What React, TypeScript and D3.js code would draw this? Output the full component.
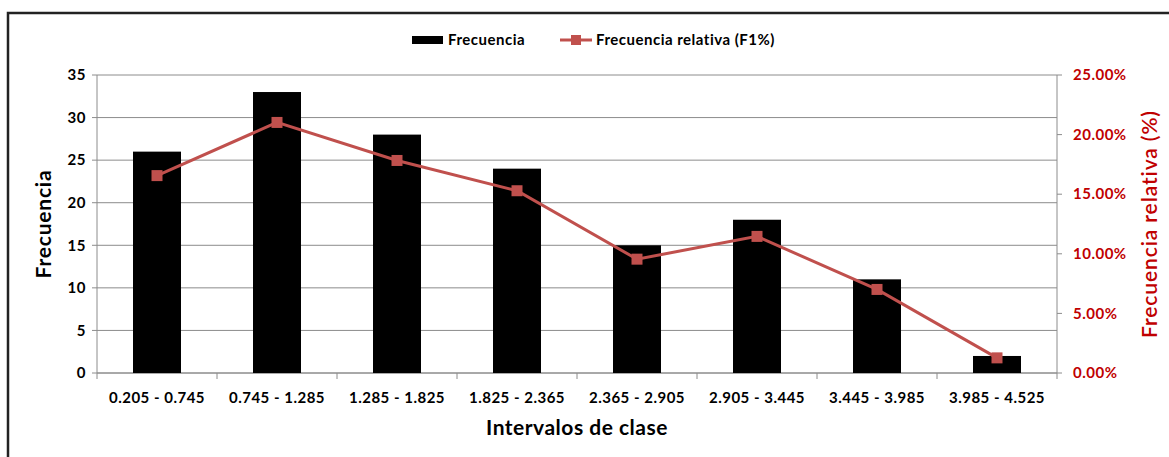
import React from 'react';
import * as d3 from 'd3';

const categories = [
  '0.205 - 0.745', '0.745 - 1.285', '1.285 - 1.825', '1.825 - 2.365',
  '2.365 - 2.905', '2.905 - 3.445', '3.445 - 3.985', '3.985 - 4.525',
];
const frecuencia = [26, 33, 28, 24, 15, 18, 11, 2];
const relativa = [0.1656, 0.2102, 0.1783, 0.1529, 0.0955, 0.1146, 0.0701, 0.0127];
const leftTicks = [0, 5, 10, 15, 20, 25, 30, 35];
const rightTicks = [0, 0.05, 0.1, 0.15, 0.2, 0.25];

const W = 1169;
const H = 457;
const FONT = 'Lato, sans-serif';
const RED = '#c0504d';
const LABEL_RED = '#c00000';
const GRID = '#8c8c8c';

export default function App() {
  const left = 97, right = 1057, top = 75, bottom = 373;

  const x = d3.scaleBand<string>().domain(categories).range([left, right]).paddingInner(0.6).paddingOuter(0.3);
  const y = d3.scaleLinear().domain([0, 35]).range([bottom, top]);
  const y2 = d3.scaleLinear().domain([0, 0.25]).range([bottom, top]);
  const boundaries = d3.range(categories.length + 1).map(i => left + i * ((right - left) / categories.length));
  const cx = (c: string) => (x(c) ?? 0) + x.bandwidth() / 2;

  const line = d3.line<number>()
    .x((_, i) => cx(categories[i]))
    .y(d => y2(d));

  const fmtPct = (v: number) => (v * 100).toFixed(2) + '%';

  return (
    <svg width={W} height={H} style={{ position: 'absolute', left: 0, top: 0, background: '#fff' }}
      fontFamily={FONT}>
      {/* outer frame */}
      <rect x={8} y={13} width={1300} height={600} fill="none" stroke="#222" strokeWidth={2.5} />

      {/* gridlines */}
      {leftTicks.map(t => (
        <line key={'g' + t} x1={left} x2={right} y1={y(t)} y2={y(t)} stroke={GRID} strokeWidth={1} />
      ))}

      {/* left axis */}
      <line x1={left} x2={left} y1={top} y2={bottom} stroke={GRID} />
      {leftTicks.map(t => (
        <g key={'l' + t}>
          <line x1={left - 5} x2={left} y1={y(t)} y2={y(t)} stroke={GRID} />
          <text x={left - 11} y={y(t)} dy="0.35em" textAnchor="end" fontSize={15} letterSpacing={0.5} fontWeight="bold" fill="#000">{t}</text>
        </g>
      ))}

      {/* right axis */}
      <line x1={right} x2={right} y1={top} y2={bottom} stroke={GRID} />
      {rightTicks.map(t => (
        <g key={'r' + t}>
          <line x1={right} x2={right + 5} y1={y2(t)} y2={y2(t)} stroke={GRID} />
          <text x={right + 16} y={y2(t)} dy="0.35em" textAnchor="start" fontSize={15} letterSpacing={0.5} fontWeight="bold" fill={LABEL_RED}>{fmtPct(t)}</text>
        </g>
      ))}

      {/* x axis */}
      <line x1={left} x2={right} y1={bottom} y2={bottom} stroke={GRID} />
      {boundaries.map((b, i) => (
        <line key={'xt' + i} x1={b} x2={b} y1={bottom} y2={bottom + 6} stroke={GRID} />
      ))}
      {categories.map(c => (
        <text key={'xl' + c} x={cx(c)} y={398} dy="0.35em" textAnchor="middle" fontSize={15} letterSpacing={0.5} fontWeight="bold" fill="#000">{c}</text>
      ))}

      {/* bars */}
      {frecuencia.map((v, i) => (
        <rect key={'b' + i} x={x(categories[i])} y={y(v)} width={x.bandwidth()} height={bottom - y(v)} fill="#000" />
      ))}

      {/* relative line */}
      <path d={line(relativa) ?? ''} fill="none" stroke={RED} strokeWidth={3} />
      {relativa.map((v, i) => (
        <rect key={'m' + i} x={cx(categories[i]) - 5.5} y={y2(v) - 5.5} width={11} height={11} fill={RED} />
      ))}

      {/* axis titles */}
      <text transform={`translate(44,224) rotate(-90)`} textAnchor="middle" dy="0.35em" fontSize={21} letterSpacing={0.8} fontWeight="bold" fill="#000">Frecuencia</text>
      <text transform={`translate(1150,224) rotate(-90)`} textAnchor="middle" dy="0.35em" fontSize={21} letterSpacing={0.9} fontWeight={600} fill={LABEL_RED}>Frecuencia relativa (%)</text>
      <text x={577} y={428} dy="0.35em" textAnchor="middle" fontSize={21} letterSpacing={0.5} fontWeight="bold" fill="#000">Intervalos de clase</text>

      {/* legend */}
      <rect x={412} y={36} width={31} height={8} fill="#000" />
      <text x={448} y={40} dy="0.35em" fontSize={15} letterSpacing={0.5} fontWeight="bold" fill="#000">Frecuencia</text>
      <line x1={560} x2={592} y1={40} y2={40} stroke={RED} strokeWidth={3} />
      <rect x={571} y={35} width={10} height={10} fill={RED} />
      <text x={596} y={40} dy="0.35em" fontSize={15} letterSpacing={0.5} fontWeight="bold" fill="#000">Frecuencia relativa (F1%)</text>
    </svg>
  );
}
